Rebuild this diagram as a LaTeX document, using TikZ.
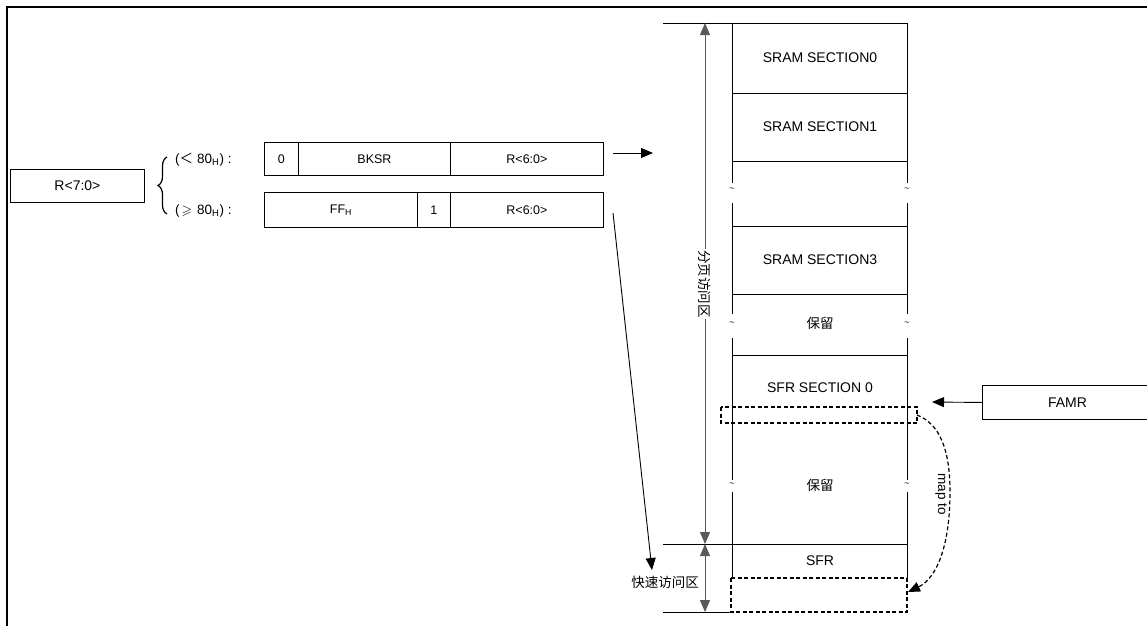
\documentclass[tikz,border=0pt]{standalone}
\usepackage{fontspec}
\setmainfont{Liberation Sans}
\newfontfamily\cjk{Noto Sans CJK SC}
\usepackage{amssymb}
\usetikzlibrary{arrows.meta,decorations.pathreplacing}
\begin{document}
\begin{tikzpicture}[x=1pt,y=-1pt,
  ln/.style={line width=0.9pt,black},
  cell/.style={draw,line width=0.9pt,inner sep=0pt,anchor=north west,font=\fontsize{12.5}{14}\selectfont},
  bigbox/.style={draw,line width=0.9pt,inner sep=0pt,anchor=north west,font=\fontsize{14}{16}\selectfont},
  lbl/.style={inner sep=1pt,font=\fontsize{14}{16}\selectfont},
  smalllbl/.style={inner sep=0pt,anchor=west,font=\fontsize{13.5}{15}\selectfont},
  cjklbl/.style={inner sep=1pt,font=\cjk\fontsize{13.5}{15}\selectfont},
  tld/.style={inner sep=0pt,font=\fontsize{9}{10}\selectfont},
  tip/.style={-{Triangle[length=12pt,width=10pt]}},
  dtip/.style={{Triangle[length=12pt,width=10pt]}-{Triangle[length=12pt,width=10pt]}},
  dsh/.style={line width=1.2pt,dash pattern=on 4pt off 2.5pt}
]
\useasboundingbox (0,0) rectangle (1147,625);
% frame
\draw[line width=2pt] (7,626) -- (7,7) -- (1148,7);

% left register
\node[bigbox,minimum width=134,minimum height=33] (r70) at (10,169) {R<7:0>};
\draw[line width=1.2pt,decorate,decoration={brace,amplitude=9pt}] (167,214) -- (167,157);
\node[smalllbl] (lt) at (175,160) {({\cjk ＜}\hspace{4pt}80\textsubscript{H}) :};
\node[smalllbl] (ge) at (175,211) {(\hspace{2pt}$\geqslant$\hspace{5pt}80\textsubscript{H}) :};

% row 1
\node[cell,minimum width=34,minimum height=33] (c0) at (264,142) {0};
\node[cell,minimum width=152,minimum height=33] (bksr) at (298,142) {BKSR};
\node[cell,minimum width=153,minimum height=33] (r60a) at (450,142) {R<6:0>};
% row 2
\node[cell,minimum width=153,minimum height=35] (ffh) at (264,192) {FF\textsubscript{H}};
\node[cell,minimum width=33,minimum height=35] (one) at (417,192) {1};
\node[cell,minimum width=153,minimum height=35] (r60b) at (450,192) {R<6:0>};

\coordinate (ra1) at (613,153);
\coordinate (ra2) at (653,153);
\draw[ln,tip] (ra1) -- (ra2);
\coordinate (da1) at (613,213);
\coordinate (da2) at (652,570);
\draw[ln,tip] (da1) -- (da2);

% memory column
\draw[ln] (663,23) -- (907,23);
\foreach \yy in {93,161,226,294,355} \draw[ln] (732,\yy) -- (907,\yy);
\draw[ln] (663,544) -- (907,544);
\draw[ln] (663,612) -- (731,612);
\foreach \xx in {732,907}{
  \draw[ln] (\xx,23) -- (\xx,183);
  \draw[ln] (\xx,203) -- (\xx,314);
  \draw[ln] (\xx,338) -- (\xx,480);
  \draw[ln] (\xx,492) -- (\xx,578);
  \node[tld] at (\xx,190) {\textasciitilde};
  \node[tld] at (\xx,324) {\textasciitilde};
  \node[tld] at (\xx,485) {\textasciitilde};
}
\draw[dsh] (721,407) rectangle (917,423);
\draw[dsh] (731,578) rectangle (907,612);

\node[lbl] (s0) at (820,58) {SRAM SECTION0};
\node[lbl] (s1) at (820,127) {SRAM SECTION1};
\node[lbl] (s3) at (820,260) {SRAM SECTION3};
\node[cjklbl] (rs1) at (820,323) {保留};
\node[lbl] (sf0) at (820,388) {SFR SECTION 0};
\node[cjklbl] (rs2) at (820,485) {保留};
\node[lbl] (sfr) at (820,561) {SFR};

% vertical dimension arrows
\coordinate (ta) at (705,23);
\coordinate (tm) at (705,544);
\coordinate (tb) at (705,612);
\draw[line width=0.9pt,black!65,dtip] (ta) -- (tm);
\draw[line width=0.9pt,black!65,dtip] (tm) -- (tb);
\node[cjklbl,fill=white,rotate=-90] (page) at (705,284) {分页访问区};
\node[cjklbl] (fast) at (665,582) {快速访问区};

% FAMR
\node[bigbox,minimum width=170,minimum height=34] (famr) at (982,385) {FAMR};
\coordinate (fa) at (932,402);
\draw[ln,tip] (famr.west) -- (fa);

% map to
\coordinate (m1) at (917,415);
\coordinate (m2) at (950,492);
\coordinate (m3) at (908,592);
\draw[dsh,tip] (m1) .. controls (940,424) and (950,450) .. (m2) .. controls (950,545) and (937,578) .. (m3);
\node[lbl,rotate=-90,font=\fontsize{13.5}{15}\selectfont] (mapto) at (941,494) {map to};
\end{tikzpicture}
\end{document}
